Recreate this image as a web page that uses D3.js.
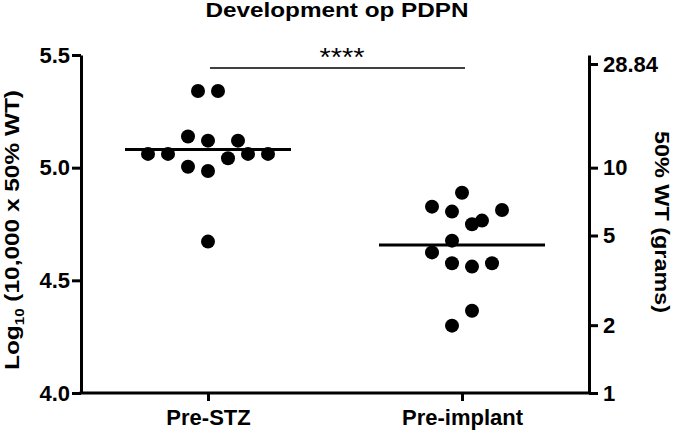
<!DOCTYPE html>
<html>
<head>
<meta charset="utf-8">
<script src="https://cdn.jsdelivr.net/npm/d3@7"></script>
<style>
  body { margin: 0; background: #fff; }
  svg { display: block; font-family: "Liberation Sans", Arial, sans-serif; }
  .axis path, .axis line { stroke: #000; stroke-width: 3px; }
  .axis text { font-size: 22px; font-weight: bold; fill: #000; }
</style>
</head>
<body>
<div id="chart"></div>
<script>
// groups on the x axis
const groups = ["Pre-STZ", "Pre-implant"];

// log10(10,000 x 50% WT) per animal
const preStzValues = [5.340, 5.340, 5.138, 5.120, 5.120, 5.061, 5.061, 5.061, 5.061, 5.042, 5.004, 4.985, 4.672];
const preImplantValues = [4.889, 4.827, 4.812, 4.805, 4.765, 4.749, 4.676, 4.624, 4.576, 4.561, 4.576, 4.365, 4.299];

// swarm column of each dot (in dot widths from the group centre)
const preStzSlots = [-0.5, 0.5, -1, 0, 1.5, -3, -2, 2, 3, 1, -1, 0, 0];
const preImplantSlots = [0, -1.5, 2, -0.5, 1, 0.5, -0.5, -1.5, -0.5, 0.5, 1.5, 0.5, -0.5];

// group means (horizontal lines)
const groupMeans = [5.081, 4.657];

// axis ticks
const leftTicks = [4.0, 4.5, 5.0, 5.5];
const rightTicks = [1, 2, 5, 10, 28.84];

const W = 677, H = 432;
const margin = { top: 55, right: 88, bottom: 39, left: 81 };

const svg = d3.select("#chart").append("svg")
  .attr("width", W)
  .attr("height", H);

const x = d3.scalePoint()
  .domain(groups)
  .range([margin.left, W - margin.right])
  .padding(0.5);

const y = d3.scaleLinear()
  .domain([4.0, 5.5])
  .range([H - margin.bottom, margin.top]);

// right axis: grams, the same positions as 10^(y-4)
const yRight = d3.scaleLog()
  .domain([Math.pow(10, 0), Math.pow(10, 1.5)])
  .range([H - margin.bottom, margin.top]);

const slot = d3.scaleLinear().domain([0, 1]).range([0, 20]);

const points = [];
preStzValues.forEach((v, i) => points.push({ g: groups[0], v: v, s: preStzSlots[i] }));
preImplantValues.forEach((v, i) => points.push({ g: groups[1], v: v, s: preImplantSlots[i] }));

// axes
svg.append("g")
  .attr("class", "axis")
  .attr("transform", `translate(${margin.left},0)`)
  .call(d3.axisLeft(y).tickValues(leftTicks).tickFormat(d3.format(".1f")).tickSize(9).tickSizeOuter(0).tickPadding(2));

svg.append("g")
  .attr("class", "axis")
  .attr("transform", `translate(${W - margin.right},0)`)
  .call(d3.axisRight(yRight).tickValues(rightTicks).tickFormat(d => d).tickSize(9).tickSizeOuter(0).tickPadding(5));

svg.append("g")
  .attr("class", "axis")
  .attr("transform", `translate(0,${H - margin.bottom})`)
  .call(d3.axisBottom(x).tickSize(8).tickSizeOuter(0).tickPadding(8))
  .select(".domain").attr("d", `M${margin.left - 1.5},0H${W - margin.right + 1.5}`);

// dots
svg.selectAll(".dot")
  .data(points)
  .enter().append("circle")
  .attr("class", "dot")
  .attr("cx", d => x(d.g) + slot(d.s))
  .attr("cy", d => y(d.v))
  .attr("r", 7)
  .attr("fill", "#000");

// mean lines
svg.selectAll(".mean")
  .data(groups)
  .enter().append("line")
  .attr("class", "mean")
  .attr("x1", d => x(d) - 83)
  .attr("x2", d => x(d) + 83)
  .attr("y1", (d, i) => y(groupMeans[i]))
  .attr("y2", (d, i) => y(groupMeans[i]))
  .attr("stroke", "#000")
  .attr("stroke-width", 3);

// significance bar
svg.append("line")
  .attr("x1", x(groups[0]) + 2)
  .attr("x2", x(groups[1]) + 3)
  .attr("y1", 68).attr("y2", 68)
  .attr("stroke", "#000")
  .attr("stroke-width", 1.5);

svg.append("text")
  .attr("x", (x(groups[0]) + x(groups[1])) / 2 + 7)
  .attr("y", 66)
  .attr("text-anchor", "middle")
  .attr("textLength", 45)
  .attr("lengthAdjust", "spacingAndGlyphs")
  .style("font-size", "26px")
  .text("****");

// title
svg.append("text")
  .attr("x", 337)
  .attr("y", 17)
  .attr("text-anchor", "middle")
  .attr("textLength", 263)
  .attr("lengthAdjust", "spacingAndGlyphs")
  .style("font-size", "20px")
  .style("font-weight", "bold")
  .text("Development op PDPN");

// left axis title
const leftLabel = svg.append("text")
  .attr("transform", "translate(19,230) rotate(-90)")
  .attr("text-anchor", "middle")
  .attr("textLength", 280)
  .attr("lengthAdjust", "spacingAndGlyphs")
  .style("font-size", "21px")
  .style("font-weight", "bold");
leftLabel.append("tspan").text("Log");
leftLabel.append("tspan").attr("dy", 5).style("font-size", "13px").text("10");
leftLabel.append("tspan").attr("dy", -5).text(" (10,000 x 50% WT)");

// right axis title
svg.append("text")
  .attr("transform", "translate(655,222) rotate(90)")
  .attr("text-anchor", "middle")
  .attr("textLength", 182)
  .attr("lengthAdjust", "spacingAndGlyphs")
  .style("font-size", "21px")
  .style("font-weight", "bold")
  .text("50% WT (grams)");
</script>
</body>
</html>
